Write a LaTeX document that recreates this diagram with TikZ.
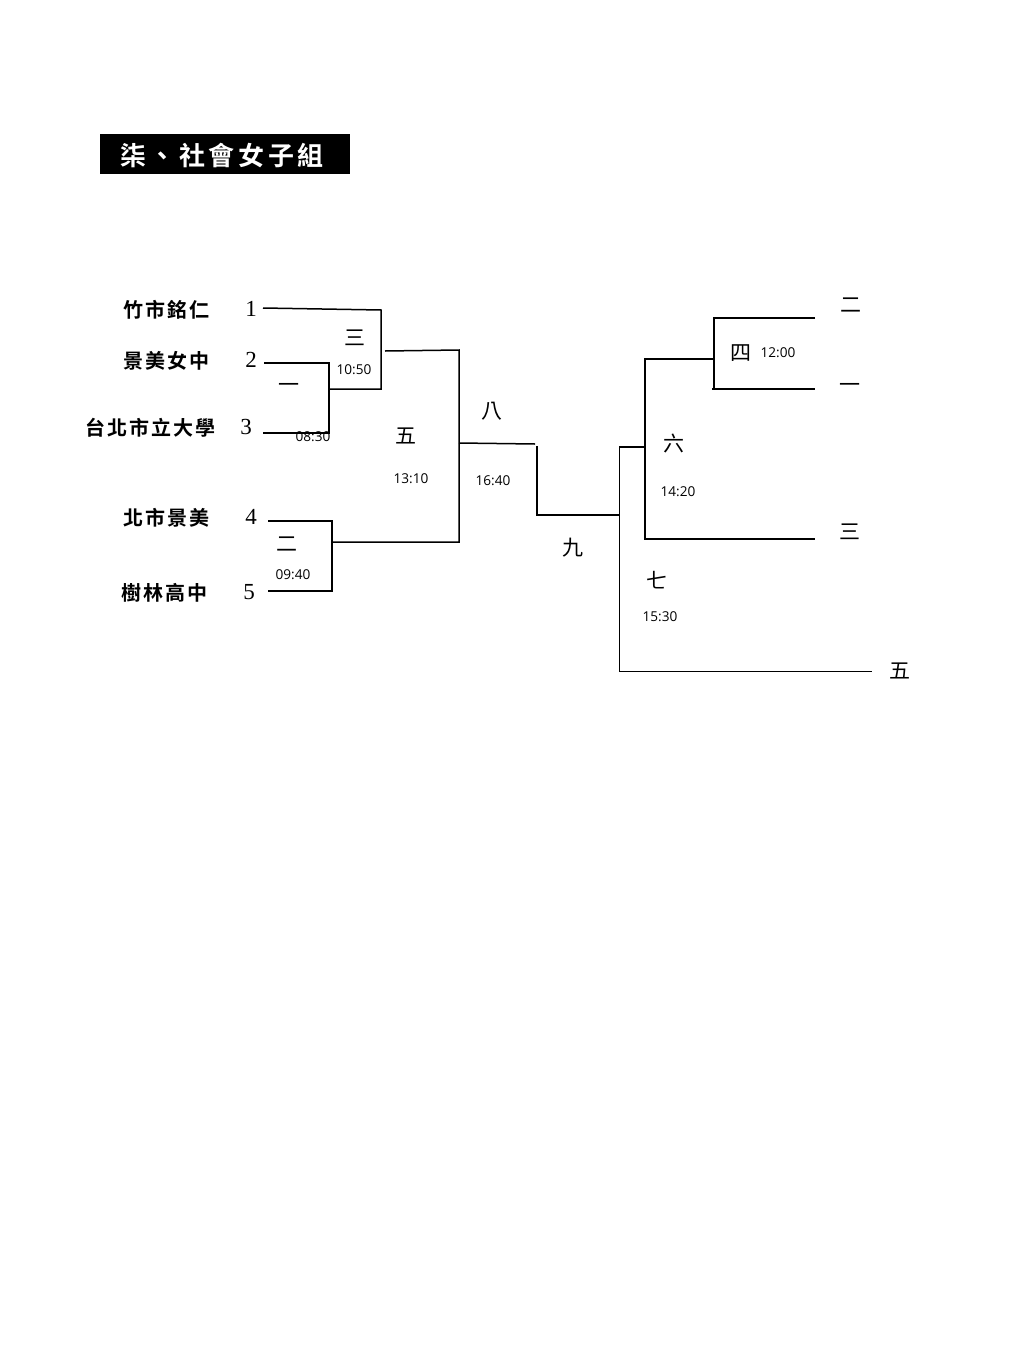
\documentclass[tikz,border=0pt]{standalone}
\usepackage{fontspec}
\setmainfont{Open Sans}
\newfontfamily\cjk{Noto Sans CJK TC}
\newfontfamily\cjkb[LetterSpace=10]{Noto Sans CJK TC Bold}
\newfontfamily\cjkt[LetterSpace=14]{Noto Sans CJK TC Bold}
\newfontfamily\numfont{Liberation Serif}
\begin{document}
\begin{tikzpicture}[x=0.5pt,y=-0.5pt,
  line/.style={line width=0.75pt,black},
  team/.style={inner sep=0pt,font=\cjkb\fontsize{10}{11}\selectfont},
  seed/.style={inner sep=0pt,font=\numfont\fontsize{11.5}{12}\selectfont},
  match/.style={inner sep=0pt,font=\cjk\fontsize{10.5}{11}\selectfont},
  timelbl/.style={inner sep=0pt,font=\fontsize{6.8}{8}\selectfont}]
\useasboundingbox (0,0) rectangle (1024,1365);
% title
\node[fill=black,minimum width=125pt,minimum height=20pt,inner sep=0pt,anchor=north west] (titlebox) at (100,134) {};
\node[text=white,inner sep=0pt,font=\cjkt\fontsize{13}{14}\selectfont] (title) at (222,156) {柒、社會女子組};
% teams
\node[team] (t1) at (166,310) {竹市銘仁};
\node[team] (t2) at (166.5,361) {景美女中};
\node[team] (t3) at (150.5,428) {台北市立大學};
\node[team] (t4) at (166,518) {北市景美};
\node[team] (t5) at (164,593) {樹林高中};
\node[seed] (s1) at (251,309) {1};
\node[seed] (s2) at (251,360) {2};
\node[seed] (s3) at (246,427) {3};
\node[seed] (s4) at (251,517) {4};
\node[seed] (s5) at (249,592) {5};
% coordinates
\coordinate (a1) at (263,308);
\coordinate (a1r) at (381,310);
\coordinate (a1b) at (381,389);
\coordinate (m1t) at (329,363);
\coordinate (a2) at (264,363);
\coordinate (m1m) at (329,389);
\coordinate (m1b) at (329,433);
\coordinate (a3) at (263,433);
\coordinate (w3) at (385,351);
\coordinate (c5t) at (459,350);
\coordinate (c5b) at (459,542);
\coordinate (c5m) at (459,443);
\coordinate (a4) at (268,521);
\coordinate (m2t) at (332,521);
\coordinate (m2m) at (332,542);
\coordinate (m2b) at (332,591);
\coordinate (a5) at (268,591);
\coordinate (w5) at (535,444);
\coordinate (c9t) at (537,446);
\coordinate (c9b) at (537,515);
\coordinate (c9r) at (619.5,515);
\coordinate (r7t) at (619.5,447);
\coordinate (r7b) at (619.5,671.5);
\coordinate (r6j) at (645,447);
\coordinate (e5) at (872,671.5);
\coordinate (r6t) at (645,359);
\coordinate (r6b) at (645,539);
\coordinate (e3) at (815,539);
\coordinate (r4j) at (713,359);
\coordinate (r4t) at (714,318);
\coordinate (r4b) at (714,389);
\coordinate (e2) at (815,318);
\coordinate (e1) at (815,389);
\coordinate (r4bl) at (712,389);
% lines left
\draw[line] (a1) -- (a1r) -- (a1b) -- (m1m);
\draw[line] (a2) -- (m1t) -- (m1b) -- (a3);
\draw[line] (w3) -- (c5t) -- (c5b) -- (m2m);
\draw[line] (a4) -- (m2t) -- (m2b) -- (a5);
\draw[line] (c5m) -- (w5);
\draw[line] (c9t) -- (c9b) -- (c9r);
% lines right
\draw[line] (r6j) -- (r7t) -- (r7b) -- (e5);
\draw[line] (r4j) -- (r6t) -- (r6b) -- (e3);
\draw[line] (e2) -- (r4t) -- (r4b);
\draw[line] (r4bl) -- (e1);
% match labels
\node[match] (n3) at (355,338) {三};
\node[timelbl] (tm3) at (354,370) {10:50};
\node[match] (n1) at (289,388) {一};
\node[timelbl] (tm1) at (313,437) {08:30};
\node[match] (n5) at (406,436) {五};
\node[timelbl] (tm5) at (411,479) {13:10};
\node[match] (n2) at (287,544) {二};
\node[timelbl] (tm2) at (293,575) {09:40};
\node[match] (n8) at (492,411) {八};
\node[timelbl] (tm8) at (493,481) {16:40};
\node[match] (n9) at (573,548) {九};
\node[match] (n4) at (741,353) {四};
\node[timelbl] (tm4) at (778,353) {12:00};
\node[match] (n6) at (674,444) {六};
\node[timelbl] (tm6) at (678,492) {14:20};
\node[match] (n7) at (657,580) {七};
\node[timelbl] (tm7) at (660,617) {15:30};
% right labels
\node[match] (l2) at (851,305) {二};
\node[match] (l1) at (850,388) {一};
\node[match] (l3) at (850,532) {三};
\node[match] (l5) at (900,671) {五};
\end{tikzpicture}
\end{document}
